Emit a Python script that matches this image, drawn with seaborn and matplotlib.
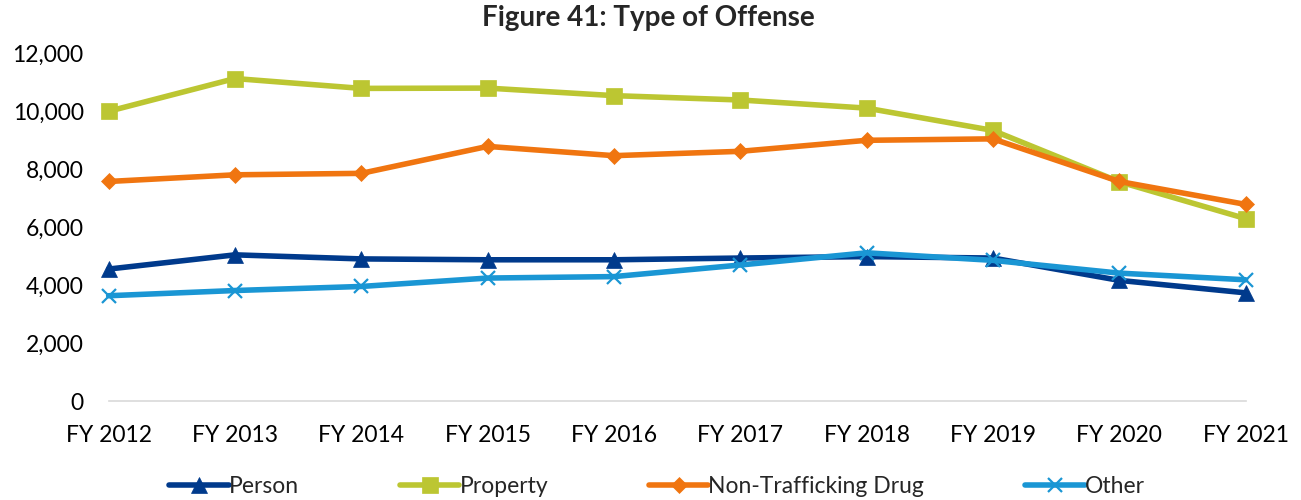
import matplotlib
matplotlib.use("Agg")
import matplotlib.pyplot as plt
import seaborn as sns
import pandas as pd

years = ["FY 2012", "FY 2013", "FY 2014", "FY 2015", "FY 2016",
         "FY 2017", "FY 2018", "FY 2019", "FY 2020", "FY 2021"]
person = [4560, 5050, 4910, 4880, 4880, 4940, 4990, 4940, 4170, 3740]
property_ = [10000, 11130, 10790, 10800, 10540, 10390, 10110, 9340, 7570, 6300]
drug = [7580, 7810, 7860, 8790, 8470, 8620, 9000, 9050, 7580, 6790]
other = [3640, 3820, 3960, 4250, 4300, 4700, 5120, 4860, 4420, 4190]

series = [
    ("Person", person, "#003A8C", "^"),
    ("Property", property_, "#BCC632", "s"),
    ("Non-Trafficking Drug", drug, "#F07510", "D"),
    ("Other", other, "#1A96D4", "x"),
]

sns.set_theme(style="white")
plt.rcParams["font.family"] = ["Lato", "DejaVu Sans"]

fig = plt.figure(figsize=(13.01, 5.0), dpi=100)
ax = fig.add_axes([0.0835, 0.1974, 0.8739, 0.6960])

x = list(range(len(years)))
for name, vals, color, marker in series:
    df = pd.DataFrame({"x": x, "value": vals})
    msize = 11 if marker != "D" else 8.5
    if marker == "x":
        msize = 10
    sns.lineplot(data=df, x="x", y="value", ax=ax, color=color, linewidth=4.0,
                 marker=marker, markersize=msize, markeredgecolor=color,
                 markerfacecolor=color, markeredgewidth=1.6 if marker == "x" else 0.5,
                 label=name, clip_on=False)

ax.set_xlim(0, 9)
ax.set_ylim(0, 12000)
ax.set_yticks(range(0, 12001, 2000))
ax.set_yticklabels([f"{v:,}" for v in range(0, 12001, 2000)])
ax.set_xticks(x)
ax.set_xticklabels(years)
ax.set_xlabel("")
ax.set_ylabel("")
ax.tick_params(axis="y", length=0, pad=18, labelsize=16.5, colors="#000000")
ax.tick_params(axis="x", length=0, pad=17, labelsize=16.5, colors="#000000")
for side in ["top", "right", "left"]:
    ax.spines[side].set_visible(False)
ax.spines["bottom"].set_color("#D9D9D9")
ax.spines["bottom"].set_linewidth(1.2)
ax.grid(False)

ax.legend_.remove()
handles, labels = ax.get_legend_handles_labels()
fig.legend(handles, labels, loc="lower center", bbox_to_anchor=(0.505, -0.035),
           ncol=4, frameon=False, fontsize=16.5, handlelength=2.6,
           handletextpad=0.0, columnspacing=4.4)

fig.suptitle("Figure 41: Type of Offense", x=0.498, y=0.99, fontsize=20,
             fontweight="bold")

fig.savefig("out.png", dpi=100, facecolor="white")
